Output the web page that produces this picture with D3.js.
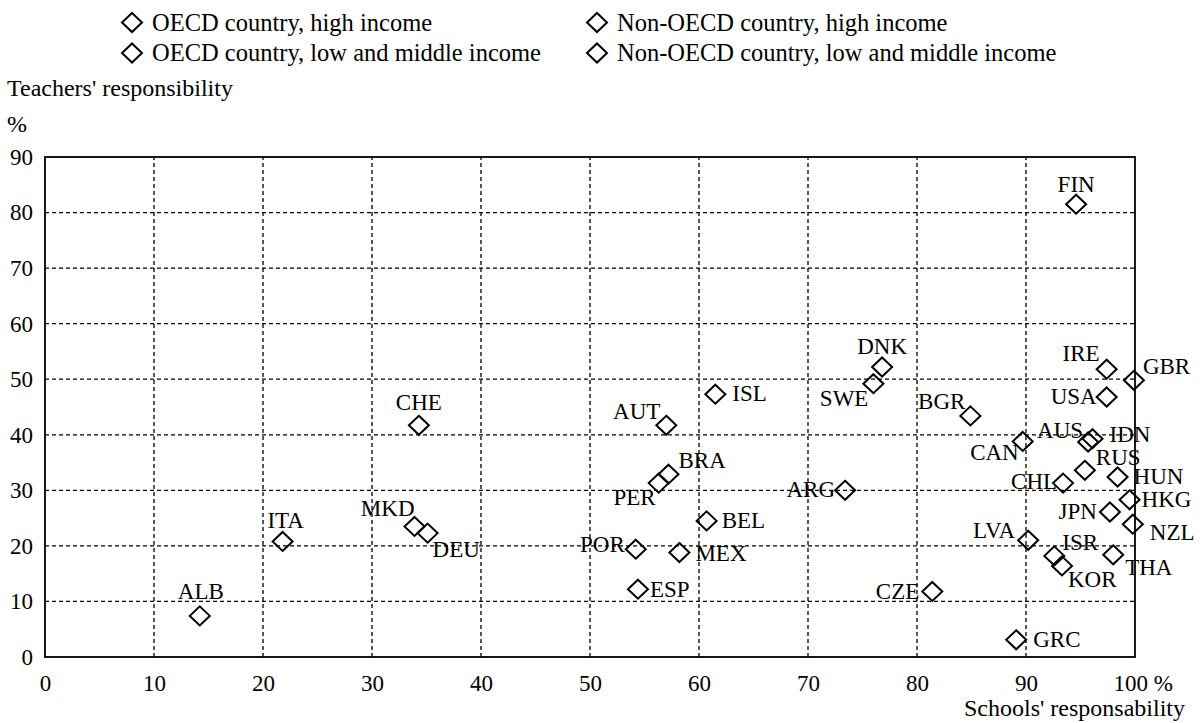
<!DOCTYPE html>
<html>
<head>
<meta charset="utf-8">
<script src="https://cdn.jsdelivr.net/npm/d3@7"></script>
<style>
  html, body { margin: 0; padding: 0; background: #fff; }
  svg { display: block; }
  text { font-family: "Liberation Serif", "Times New Roman", serif; fill: #000; }
</style>
</head>
<body>
<svg id="chart" width="1203" height="723"></svg>
<script>
// ---- Data ----
const countries = ["ALB","ITA","MKD","DEU","CHE","POR","ESP","PER","BRA","AUT","MEX","BEL","ISL","ARG","SWE","DNK","CZE","BGR","GRC","CAN","LVA","ISR","KOR","CHL","AUS","RUS","IDN","FIN","IRE","USA","JPN","THA","HUN","HKG","NZL","GBR"];
const schoolsResponsibility = [14.2,21.8,33.9,35.1,34.3,54.2,54.4,56.3,57.2,57.0,58.2,60.7,61.5,73.4,76.0,76.8,81.4,84.9,89.1,89.7,90.2,92.6,93.3,93.4,95.7,95.4,96.1,94.6,97.4,97.4,97.7,98.0,98.4,99.5,99.8,99.9];
const teachersResponsibility = [7.4,20.8,23.5,22.3,41.7,19.4,12.2,31.3,32.9,41.7,18.8,24.5,47.3,30.0,49.2,52.2,11.8,43.4,3.1,38.8,21.0,18.2,16.4,31.3,38.7,33.6,39.3,81.5,51.8,46.8,26.1,18.4,32.4,28.3,23.9,49.8];
const legendLabels = ["OECD country, high income","Non-OECD country, high income","OECD country, low and middle income","Non-OECD country, low and middle income"];
const xTicks = [0,10,20,30,40,50,60,70,80,90,100];
const yTicks = [0,10,20,30,40,50,60,70,80,90];
const yAxisTitle = "Teachers' responsibility";
const yAxisUnit = "%";
const xAxisTitle = "Schools' responsability";

// ---- Label placement (drawing style) ----
const labelPlace = {
  ALB:["middle",1,-17], ITA:["middle",3,-13], CHE:["middle",0,-15], MKD:["end",0,-10], DEU:["start",5,24],
  AUT:["end",-6,-6], ISL:["start",17,7], BRA:["start",10,-6], PER:["end",-3,22], BEL:["start",15,7],
  POR:["end",-11,3], MEX:["start",16,8], ESP:["start",12,8], ARG:["end",-10,7], DNK:["middle",0,-13],
  SWE:["end",-5,22], BGR:["end",-5,-7], IRE:["end",-7,-8], GBR:["start",9,-6], USA:["end",-10,7],
  CAN:["end",-4,19], AUS:["end",-5,-4], IDN:["start",17,3], RUS:["start",11,-5], HUN:["start",16,7],
  CHL:["end",-6,6], HKG:["start",12,7], JPN:["end",-13,7], NZL:["start",17,16], LVA:["end",-13,-2],
  ISR:["start",8,-6], KOR:["start",6,21], THA:["start",12,20], CZE:["end",-13,8], GRC:["start",17,7],
  FIN:["middle",0,-12]
};

const svg = d3.select("#chart");
const FONT = 23;
const LEGEND_FONT = 24.5;
const TITLE_FONT = 24;

const x = d3.scaleLinear().domain([0,100]).range([45,1135]);
const y = d3.scaleLinear().domain([0,90]).range([657,157]);

const diamond = (rx, ry) => `M0,${-ry}L${rx},0L0,${ry}L${-rx},0Z`;

// gridlines
const grid = svg.append("g");
grid.selectAll("line.v").data(xTicks.filter(d => d > 0 && d < 100)).join("line")
  .attr("x1", d => x(d)).attr("x2", d => x(d))
  .attr("y1", y(0)).attr("y2", y(90))
  .attr("stroke", "#000").attr("stroke-width", 1.3).attr("stroke-dasharray", "4,3");
grid.selectAll("line.h").data(yTicks.filter(d => d > 0 && d < 90)).join("line")
  .attr("x1", x(0)).attr("x2", x(100))
  .attr("y1", d => y(d)).attr("y2", d => y(d))
  .attr("stroke", "#000").attr("stroke-width", 1.3).attr("stroke-dasharray", "4,3");

// frame
svg.append("rect")
  .attr("x", x(0)).attr("y", y(90))
  .attr("width", x(100) - x(0)).attr("height", y(0) - y(90))
  .attr("fill", "none").attr("stroke", "#000").attr("stroke-width", 1.8);

// x axis labels
const xAxis = d3.axisBottom(x).tickValues(xTicks).tickSize(0).tickPadding(0)
  .tickFormat(d => d === 100 ? "100 %" : d);
const gx = svg.append("g").attr("transform", `translate(0,${y(0)})`).call(xAxis);
gx.select(".domain").remove();
gx.selectAll("text")
  .attr("y", 34).attr("dy", 0)
  .style("font-family", "Liberation Serif").style("font-size", FONT + "px").attr("fill", "#000")
  .attr("text-anchor", d => d === 100 ? "start" : "middle")
  .attr("dx", d => d === 100 ? -22 : 0);

// y axis labels
const yAxis = d3.axisLeft(y).tickValues(yTicks).tickSize(0).tickPadding(12);
const gy = svg.append("g").attr("transform", `translate(${x(0)},0)`).call(yAxis);
gy.select(".domain").remove();
gy.selectAll("text")
  .attr("dy", "0.32em")
  .style("font-family", "Liberation Serif").style("font-size", FONT + "px").attr("fill", "#000");

// axis titles
svg.append("text").attr("x", 7).attr("y", 96).style("font-size", TITLE_FONT + "px").text(yAxisTitle);
svg.append("text").attr("x", 7).attr("y", 132).style("font-size", TITLE_FONT + "px").text(yAxisUnit);
svg.append("text").attr("x", 1185).attr("y", 716).attr("text-anchor", "end")
  .style("font-size", TITLE_FONT + "px").text(xAxisTitle);

// legend
const legendPos = [[132, 22.5], [597, 22.5], [132, 53], [597, 53]];
const lg = svg.append("g").selectAll("g").data(legendLabels).join("g")
  .attr("transform", (d, i) => `translate(${legendPos[i][0]},${legendPos[i][1]})`);
lg.append("path").attr("d", diamond(10, 9.5)).attr("fill", "none").attr("stroke", "#000").attr("stroke-width", 2);
lg.append("text").attr("x", 20).attr("y", 8).style("font-size", LEGEND_FONT + "px").text(d => d);

// points
const data = countries.map((c, i) => ({ c, sx: schoolsResponsibility[i], ty: teachersResponsibility[i] }));
const pts = svg.append("g").selectAll("g").data(data).join("g")
  .attr("transform", d => `translate(${x(d.sx)},${y(d.ty)})`);
pts.append("path").attr("d", diamond(10, 9.5)).attr("fill", "none").attr("stroke", "#000").attr("stroke-width", 2);
pts.append("text")
  .attr("text-anchor", d => labelPlace[d.c][0])
  .attr("x", d => labelPlace[d.c][1])
  .attr("y", d => labelPlace[d.c][2])
  .style("font-size", FONT + "px")
  .text(d => d.c);
</script>
</body>
</html>
